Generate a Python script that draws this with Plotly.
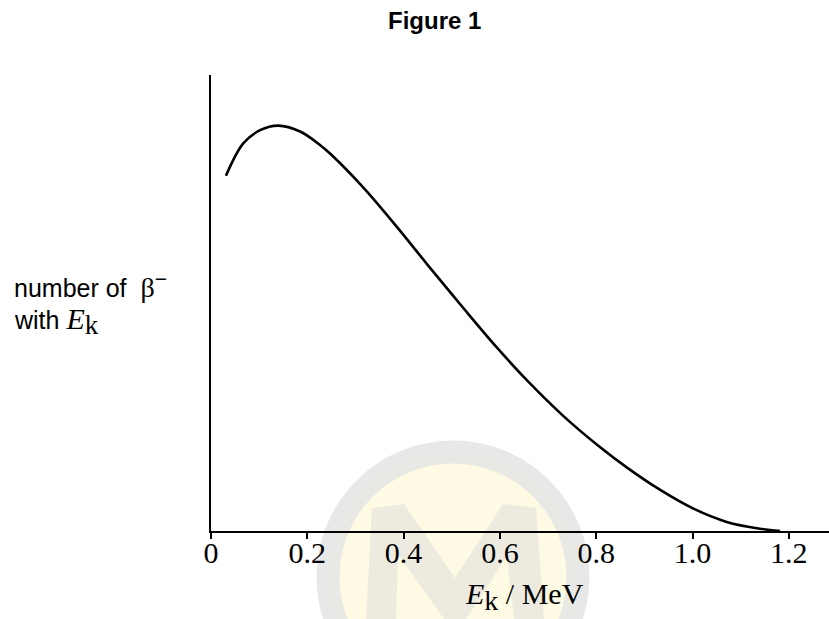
import plotly.graph_objects as go

# Data (x in MeV, y in arbitrary units, 0-100 = axis height)
energy_mev = [0.031, 0.067, 0.102, 0.140, 0.185, 0.227, 0.250, 0.3165, 0.386, 0.455,
              0.524, 0.594, 0.663, 0.732, 0.809, 0.864, 0.933, 1.002, 1.071, 1.140, 1.182]
beta_count = [77.9, 85.0, 87.9, 88.9, 87.6, 84.6, 82.5, 75.3, 66.7, 57.7,
              48.9, 40.2, 32.3, 25.2, 18.3, 13.9, 9.0, 4.9, 2.0, 0.5, 0.0]
tick_vals = [0, 0.2, 0.4, 0.6, 0.8, 1.0, 1.2]
tick_text = ["0", "0.2", "0.4", "0.6", "0.8", "1.0", "1.2"]

W, H = 829, 619
L, R, T, B = 211, 0, 75, 88
pw, ph = W - L - R, H - T - B

def px(x):
    return (x - L) / pw

def py(y):
    return (H - B - y) / ph

fig = go.Figure()
fig.add_trace(go.Scatter(
    x=energy_mev, y=beta_count, mode="lines",
    line=dict(color="black", width=2.6, shape="spline", smoothing=1.0),
    hoverinfo="skip", showlegend=False,
))

serif = "Liberation Serif, Times New Roman, serif"
sans = "Liberation Sans, Arial, sans-serif"
nb = "\u00a0"

annotations = [
    dict(text="<b>Figure 1</b>", x=px(434), y=py(21), xref="paper", yref="paper",
         showarrow=False, xanchor="center", yanchor="middle",
         font=dict(family=sans, size=24, color="black")),
    dict(text="number of" + nb * 2 + "<span style='font-family:Liberation Serif;font-size:28px'>β</span>"
              "<sup><span style='font-size:21px'>−</span></sup>",
         x=px(12), y=py(285), xref="paper", yref="paper",
         showarrow=False, xanchor="left", yanchor="middle",
         font=dict(family=sans, size=25, color="black")),
    dict(text="with <span style='font-family:Liberation Serif;font-size:30px'><i>E</i></span>"
              "<sub><span style='font-family:Liberation Serif;font-size:27px'>k</span></sub>",
         x=px(12), y=py(321), xref="paper", yref="paper",
         showarrow=False, xanchor="left", yanchor="middle",
         font=dict(family=sans, size=25, color="black")),
    dict(text="<i>E</i><sub><span style='font-size:28px'>k</span></sub> / MeV",
         x=px(524), y=py(596), xref="paper", yref="paper",
         showarrow=False, xanchor="center", yanchor="middle",
         font=dict(family=serif, size=30, color="black")),
]

# faint circular watermark with an "M" drawn as a shape (decoration only)
m_outline = [(366, 619), (372, 508), (404, 504), (455, 578), (503, 504), (536, 508),
             (544, 619), (514, 619), (507, 556), (466, 619), (444, 619), (398, 554), (396, 619)]
m_path = "M " + " L ".join(f"{px(a):.4f},{py(b):.4f}" for a, b in m_outline) + " Z"

shapes = [
    dict(type="circle", xref="paper", yref="paper", layer="below",
         x0=px(328), x1=px(578), y0=py(452), y1=py(702),
         line=dict(color="rgba(228,228,228,0.85)", width=23),
         fillcolor="rgba(255,246,200,0.5)"),
    dict(type="path", xref="paper", yref="paper", layer="below", path=m_path,
         line=dict(width=0), fillcolor="rgba(222,222,222,0.55)"),
]

fig.update_layout(
    width=W, height=H,
    margin=dict(l=L, r=R, t=T, b=B, pad=0),
    paper_bgcolor="white", plot_bgcolor="rgba(0,0,0,0)",
    annotations=annotations, shapes=shapes,
    xaxis=dict(range=[0, (W - L) / 481.5], tickvals=tick_vals, ticktext=tick_text,
               showgrid=False, zeroline=False, showline=True, linecolor="black",
               linewidth=2, ticks="outside", ticklen=6, tickwidth=1.5, tickcolor="black",
               ticklabelstandoff=-12,
               tickfont=dict(family=serif, size=30, color="black"), fixedrange=True),
    yaxis=dict(range=[0, 100], showgrid=False, zeroline=False, showline=True,
               linecolor="black", linewidth=2, showticklabels=False, ticks="",
               fixedrange=True),
)

fig.write_html("out.html", config={"displayModeBar": False},
               post_script="document.body.style.margin='0';document.body.style.padding='0';")
